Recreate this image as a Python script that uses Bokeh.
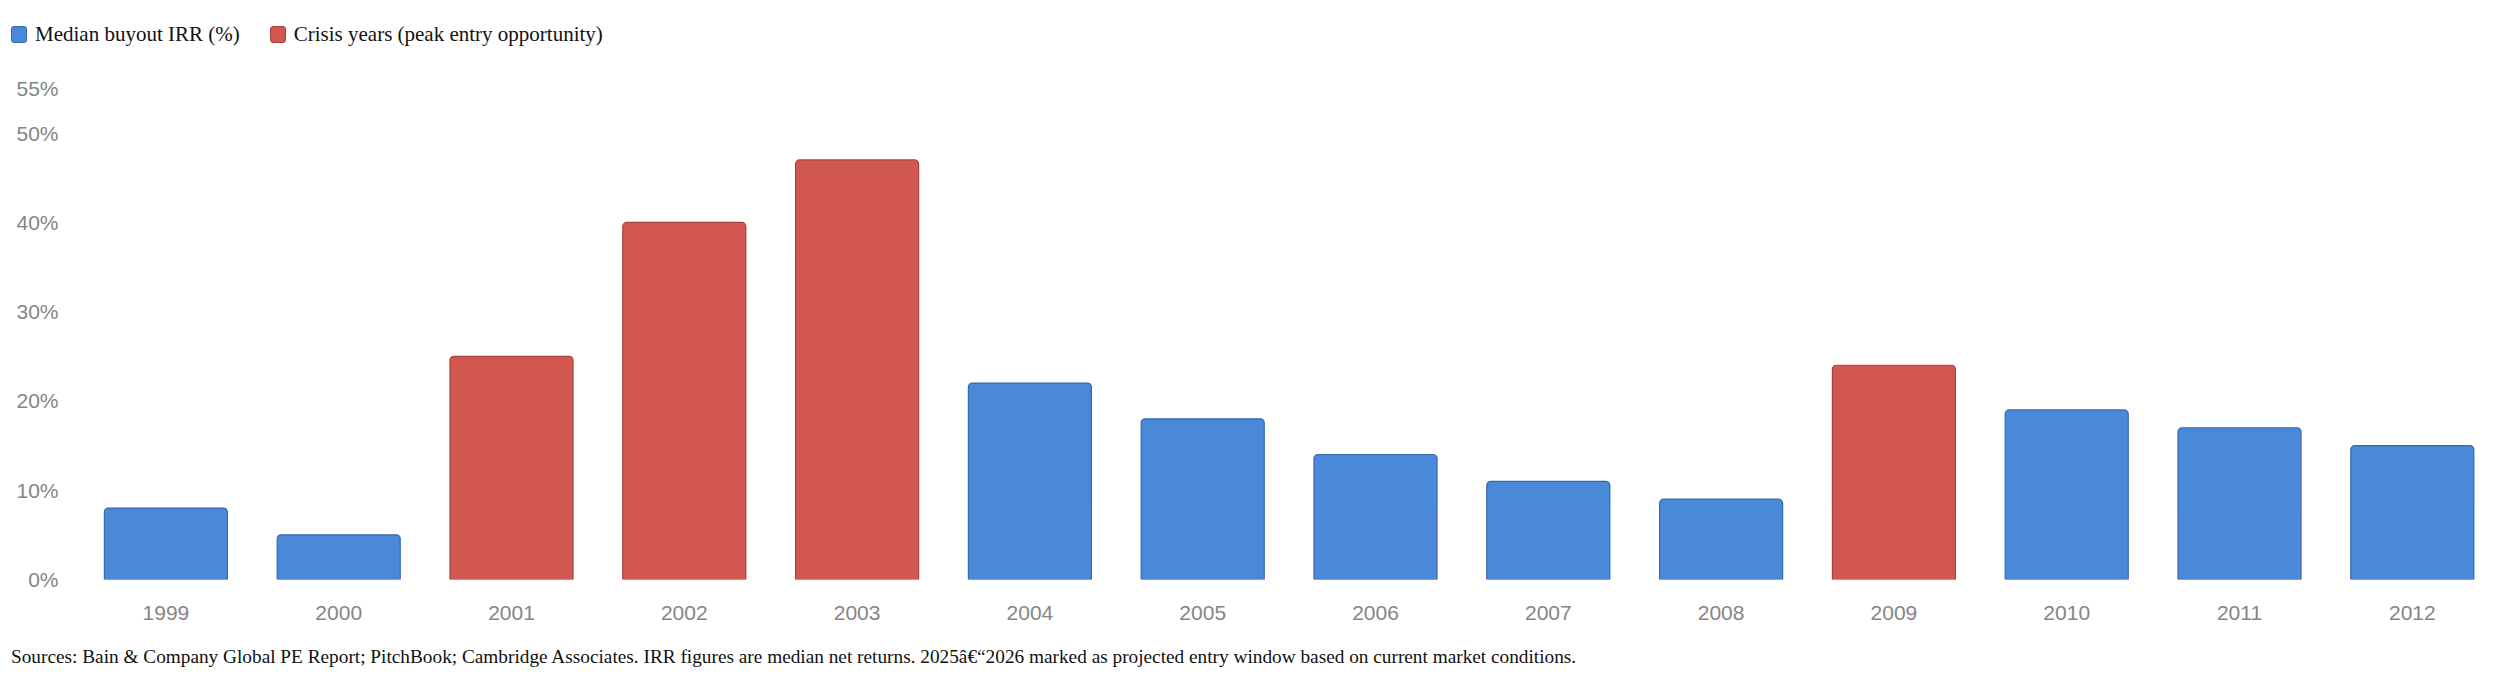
from bokeh.plotting import figure
from bokeh.layouts import column
from bokeh.models import (ColumnDataSource, Range1d, FixedTicker, PrintfTickFormatter, Div)
from bokeh.embed import file_html
from bokeh.resources import INLINE

years = ["1999", "2000", "2001", "2002", "2003", "2004", "2005", "2006",
         "2007", "2008", "2009", "2010", "2011", "2012"]
irr = [8, 5, 25, 40, 47, 22, 18, 14, 11, 9, 24, 19, 17, 15]
crisis_years = ["2001", "2002", "2003", "2009"]
y_ticks = [0, 10, 20, 30, 40, 50, 55]
legend_labels = ["Median buyout IRR (%)", "Crisis years (peak entry opportunity)"]
source_note = ("Sources: Bain &amp; Company Global PE Report; PitchBook; Cambridge Associates. "
               "IRR figures are median net returns. 2025\u00e2\u20ac\u201c2026 marked as projected "
               "entry window based on current market conditions.")

BLUE, BLUE_LINE = "#4a89d8", "#3568b0"
RED, RED_LINE = "#d25750", "#a8423c"
W = 2492

pos = list(range(len(years)))
normal = dict(x=[], top=[])
crisis = dict(x=[], top=[])
for i, (yr, v) in enumerate(zip(years, irr)):
    d = crisis if yr in crisis_years else normal
    d["x"].append(i)
    d["top"].append(v)

bar_style = [dict(fill_color=BLUE, line_color=BLUE_LINE, line_width=1.2),
             dict(fill_color=RED, line_color=RED_LINE, line_width=1.2)]

# ---- legend strip ----
items_html = ""
for k, (lab, s) in enumerate(zip(legend_labels, bar_style)):
    ml = "0" if k == 0 else "30px"
    items_html += (f'<span style="display:inline-block;width:16px;height:17px;box-sizing:border-box;'
                   f'background:{s["fill_color"]};border:1px solid {s["line_color"]};'
                   f'border-radius:3px;margin-left:{ml};margin-right:8px;"></span>'
                   f'<span>{lab}</span>')
legend_div = Div(text=(f'<div style="display:flex;align-items:center;height:17px;line-height:17px;'
                       f'padding:34px 0 0 11px;white-space:nowrap;font-family:\'Liberation Serif\';'
                       f'font-size:21px;color:#111111;">{items_html}</div>'),
                 width=W, height=60, margin=0)

# ---- main chart ----
p = figure(width=W, height=575, output_backend="svg", toolbar_location=None,
           x_range=Range1d(-0.5, 13.464), y_range=Range1d(0, 55),
           min_border_left=79, min_border_right=0, min_border_top=28,
           min_border_bottom=56)
p.outline_line_color = None
p.xgrid.grid_line_color = None
p.ygrid.grid_line_color = None

for src, s in zip((normal, crisis), bar_style):
    p.vbar(x="x", top="top", width=0.712, bottom=0, source=ColumnDataSource(src),
           border_radius=(4, 4, 0, 0), **s)

for ax in (p.xaxis[0], p.yaxis[0]):
    ax.axis_line_color = None
    ax.major_tick_line_color = None
    ax.minor_tick_line_color = None
    ax.major_tick_out = 0
    ax.major_tick_in = 0
    ax.major_label_text_font = "Liberation Sans"
    ax.major_label_text_font_size = "21px"
    ax.major_label_text_color = "#858585"

p.xaxis.ticker = FixedTicker(ticks=pos)
p.xaxis.major_label_overrides = {i: y for i, y in zip(pos, years)}
p.xaxis.major_label_standoff = 26
p.yaxis.ticker = FixedTicker(ticks=y_ticks)
p.yaxis.formatter = PrintfTickFormatter(format="%d%%")
p.yaxis.major_label_standoff = 21

# ---- source note ----
note_div = Div(text=(f'<div style="height:40px;line-height:40px;padding:2px 0 0 11px;white-space:nowrap;'
                     f'font-family:\'Liberation Serif\';font-size:19.3px;color:#111111;">'
                     f'{source_note}</div>'),
               width=W, height=44, margin=0)

layout = column(legend_div, p, note_div, spacing=0)
open("out.html", "w").write(file_html(layout, INLINE))
